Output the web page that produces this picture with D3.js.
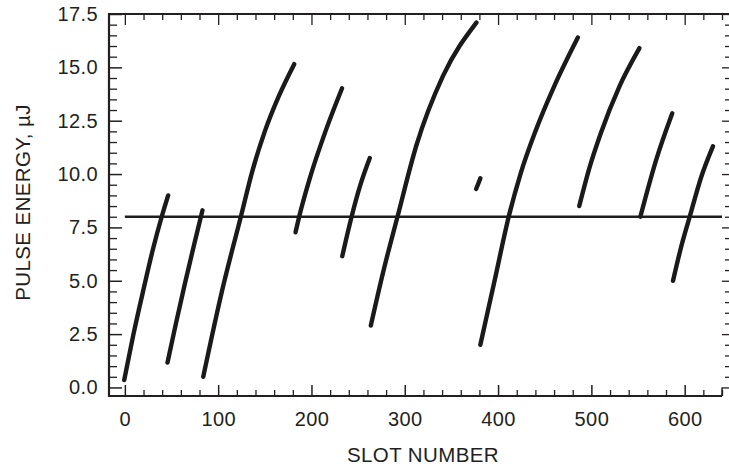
<!DOCTYPE html>
<html>
<head>
<meta charset="utf-8">
<script src="https://cdn.jsdelivr.net/npm/d3@7"></script>
<style>
  html, body { margin: 0; padding: 0; background: #fff; }
  svg { display: block; }
  text { font-family: "Liberation Sans", Arial, Helvetica, sans-serif; fill: #231f20; }
</style>
</head>
<body>
<svg id="chart" width="729" height="469"></svg>
<script>
// ---- Data ----
const xTickValues = [0, 100, 200, 300, 400, 500, 600];
const yTickValues = [0, 2.5, 5, 7.5, 10, 12.5, 15, 17.5];
const yTickLabels = ["0.0", "2.5", "5.0", "7.5", "10.0", "12.5", "15.0", "17.5"];
const xTitle = "SLOT NUMBER";
const yTitle = "PULSE ENERGY, \u00b5J";
const thresholdEnergy = 8.0;
const thresholdSlots = [0, 640];

// Each segment: slot numbers and pulse energies
const seg1Slots = [-0.7, 9, 20, 30.5, 39.5, 46.4];
const seg1Energy = [0.35, 2.45, 4.6, 6.55, 8.0, 9.0];
const seg2Slots = [45.7, 55, 64.5, 74, 83.2];
const seg2Energy = [1.17, 3.05, 4.9, 6.65, 8.3];
const seg3Slots = [84, 104, 124.3, 137, 150, 165, 181.5];
const seg3Energy = [0.5, 4.5, 8.0, 10.2, 12.0, 13.65, 15.15];
const seg4Slots = [182.9, 186.8, 198.2, 215, 232.8];
const seg4Energy = [7.27, 8.0, 9.8, 12.0, 14.02];
const seg5Slots = [233, 243, 252.5, 262.5];
const seg5Energy = [6.15, 8.0, 9.5, 10.75];
const seg6Slots = [263.6, 276.8, 292.2, 312.5, 341, 376.8];
const seg6Energy = [2.9, 5.4, 8.0, 11.35, 14.6, 17.1];
const seg7Slots = [376.5, 381];
const seg7Energy = [9.3, 9.8];
const seg8Slots = [381, 396, 411.4, 424, 440, 460, 485.5];
const seg8Energy = [2.0, 4.95, 8.0, 10.0, 12.0, 14.1, 16.4];
const seg9Slots = [487, 498, 510, 530, 551.5];
const seg9Energy = [8.5, 10.3, 11.9, 14.1, 15.9];
const seg10Slots = [552.5, 569.7, 586.7];
const seg10Energy = [8.0, 10.7, 12.85];
const seg11Slots = [587.5, 596, 605.4, 618, 630.3];
const seg11Energy = [5.0, 6.55, 8.0, 9.9, 11.3];

const segments = [
  [seg1Slots, seg1Energy], [seg2Slots, seg2Energy], [seg3Slots, seg3Energy],
  [seg4Slots, seg4Energy], [seg5Slots, seg5Energy], [seg6Slots, seg6Energy],
  [seg7Slots, seg7Energy], [seg8Slots, seg8Energy], [seg9Slots, seg9Energy],
  [seg10Slots, seg10Energy], [seg11Slots, seg11Energy]
].map(([xs, ys]) => xs.map((x, i) => ({ x, y: ys[i] })));

// ---- Layout ----
(function draw() {
const svg = d3.select("#chart");
const pLeft = 109, pRight = 722, pTop = 14, pBottom = 396;
const x = d3.scaleLinear().domain([-17, 640]).range([pLeft, pRight]);
const y = d3.scaleLinear().domain([-0.4, 17.5]).range([pBottom, pTop]);
const ink = "#231f20";
const fs = 20;

const xMinor = d3.range(0, 641, 20).filter(v => v % 100 !== 0);
const yMinor = d3.range(0, 17.51, 0.5).filter(v => Math.abs(v / 2.5 - Math.round(v / 2.5)) > 1e-6);

// Bottom axis (ticks inward)
const gB = svg.append("g").attr("transform", `translate(0,${pBottom})`);
gB.call(d3.axisBottom(x).tickValues(xTickValues).tickSize(-11).tickPadding(16).tickFormat(d3.format("d")));
gB.call(g => g.select(".domain").remove());
gB.attr("font-family", null).attr("font-size", null);
gB.selectAll(".tick line").attr("stroke", ink).attr("stroke-width", 1.5);
gB.selectAll(".tick text").attr("font-size", fs).attr("letter-spacing", 0.4).attr("fill", ink);
gB.append("g").call(d3.axisBottom(x).tickValues(xMinor).tickSize(-6).tickFormat(""))
  .call(g => g.select(".domain").remove())
  .selectAll("line").attr("stroke", ink).attr("stroke-width", 1.3);

// Top axis (ticks inward)
const gT = svg.append("g").attr("transform", `translate(0,${pTop})`);
gT.call(d3.axisTop(x).tickValues(xTickValues).tickSize(-11).tickFormat(""));
gT.append("g").call(d3.axisTop(x).tickValues(xMinor).tickSize(-6).tickFormat(""));
gT.selectAll(".domain").remove();
gT.selectAll("line").attr("stroke", ink).attr("stroke-width", 1.3);

// Left axis (ticks inward)
const gL = svg.append("g").attr("transform", `translate(${pLeft},0)`);
gL.call(d3.axisLeft(y).tickValues(yTickValues).tickSize(-13).tickPadding(11).tickFormat((d, i) => yTickLabels[i]));
gL.call(g => g.select(".domain").remove());
gL.attr("font-family", null).attr("font-size", null);
gL.selectAll(".tick line").attr("stroke", ink).attr("stroke-width", 1.5);
gL.selectAll(".tick text").attr("font-size", fs).attr("letter-spacing", 0.4).attr("fill", ink);
gL.append("g").call(d3.axisLeft(y).tickValues(yMinor).tickSize(-8).tickFormat(""))
  .call(g => g.select(".domain").remove())
  .selectAll("line").attr("stroke", ink).attr("stroke-width", 1.3);

// Right axis (short outward ticks)
const gR = svg.append("g").attr("transform", `translate(${pRight},0)`);
gR.call(d3.axisRight(y).tickValues(yTickValues).tickSize(7).tickFormat(""));
gR.call(g => g.select(".domain").remove());
gR.selectAll("line").attr("stroke", ink).attr("stroke-width", 1.3);
gR.append("g").attr("transform", "translate(3,0)")
  .call(d3.axisRight(y).tickValues(yMinor).tickSize(4).tickFormat(""))
  .call(g => g.select(".domain").remove())
  .selectAll("line").attr("stroke", ink).attr("stroke-width", 1.3);

// Frame lines
svg.append("line").attr("x1", pLeft).attr("x2", pLeft).attr("y1", pTop - 1).attr("y2", pBottom + 1)
  .attr("stroke", ink).attr("stroke-width", 2.2);
svg.append("line").attr("x1", pLeft - 1).attr("x2", pRight).attr("y1", pBottom).attr("y2", pBottom)
  .attr("stroke", ink).attr("stroke-width", 2.2);
svg.append("line").attr("x1", pLeft - 1).attr("x2", 729).attr("y1", pTop).attr("y2", pTop)
  .attr("stroke", ink).attr("stroke-width", 2.2);
svg.append("line").attr("x1", pRight).attr("x2", pRight).attr("y1", y(0)).attr("y2", pBottom)
  .attr("stroke", ink).attr("stroke-width", 1.5);

// Threshold line
svg.append("line")
  .attr("x1", x(thresholdSlots[0])).attr("x2", x(thresholdSlots[1]))
  .attr("y1", y(thresholdEnergy)).attr("y2", y(thresholdEnergy))
  .attr("stroke", "#1e1e1e").attr("stroke-width", 2.6);

// Segments
const line = d3.line().x(d => x(d.x)).y(d => y(d.y)).curve(d3.curveMonotoneX);
svg.append("g").selectAll("path").data(segments).join("path")
  .attr("d", line)
  .attr("fill", "none")
  .attr("stroke", "#1a1a1a")
  .attr("stroke-width", 4.4)
  .attr("stroke-linecap", "round");

// Titles
svg.append("text").attr("x", 423).attr("y", 462)
  .attr("text-anchor", "middle").attr("font-size", 20.5).attr("letter-spacing", 0.4).text(xTitle);
svg.append("text").attr("transform", "translate(29.5,202.5) rotate(-90)")
  .attr("text-anchor", "middle").attr("font-size", 20.5).attr("letter-spacing", 0.4).text(yTitle);
})();
</script>
</body>
</html>
